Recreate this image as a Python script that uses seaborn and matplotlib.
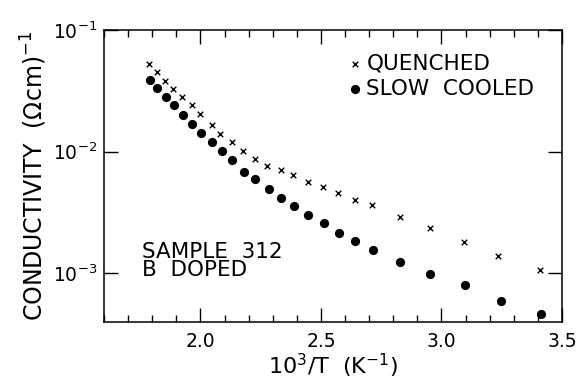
import matplotlib
matplotlib.use("Agg")

import matplotlib.pyplot as plt
import matplotlib.ticker as mticker
import seaborn as sns


# values
quenched_x = [1.785, 1.819, 1.852, 1.888, 1.925, 1.967, 2.000, 2.047, 2.083,
              2.130, 2.177, 2.228, 2.278, 2.334, 2.383, 2.448, 2.507, 2.570,
              2.642, 2.713, 2.827, 2.953, 3.094, 3.235, 3.410]
quenched_y = [0.0525, 0.0448, 0.0378, 0.0330, 0.0282, 0.0241, 0.0203, 0.0167,
              0.0140, 0.0121, 0.01006, 0.00865, 0.00767, 0.00706, 0.00642,
              0.00566, 0.00515, 0.00456, 0.00402, 0.00361, 0.00290, 0.00235,
              0.00179, 0.00139, 0.00106]

slow_x = [1.789, 1.820, 1.856, 1.892, 1.928, 1.964, 2.004, 2.050, 2.088,
          2.131, 2.180, 2.228, 2.283, 2.334, 2.390, 2.448, 2.511, 2.573,
          2.641, 2.715, 2.829, 2.954, 3.097, 3.246, 3.413]
slow_y = [0.0388, 0.0333, 0.0282, 0.0241, 0.0199, 0.0169, 0.0142, 0.0119,
          0.0101, 0.00854, 0.00685, 0.00592, 0.00492, 0.00415, 0.00357,
          0.00301, 0.00258, 0.00216, 0.00184, 0.00154, 0.00123, 0.000993,
          0.000796, 0.000596, 0.000465]

x_ticks = [2.0, 2.5, 3.0, 3.5]
x_tick_labels = ["2.0", "2.5", "3.0", "3.5"]
y_ticks = [1e-3, 1e-2, 1e-1]
y_tick_labels = ["$10^{-3}$", "$10^{-2}$", "$10^{-1}$"]

sns.set_theme(style="ticks")
plt.rcParams["font.family"] = ["DejaVu Sans"]
plt.rcParams["mathtext.default"] = "regular"
for key in ["text.color", "axes.labelcolor", "xtick.color", "ytick.color"]:
    plt.rcParams[key] = "black"

fig = plt.figure(figsize=(5.82, 3.79), dpi=100)
ax = fig.add_axes([0.1787, 0.1504, 0.7869, 0.7704])

sns.scatterplot(x=quenched_x, y=quenched_y, marker="x", s=16, color="black",
                linewidth=1.0, label="QUENCHED", ax=ax)
sns.scatterplot(x=slow_x, y=slow_y, marker="o", s=44, color="black",
                edgecolor="black", linewidth=0, label="SLOW  COOLED", ax=ax)

ax.set_yscale("log")
ax.set_xlim(1.6, 3.5)
ax.set_ylim(3.97e-4, 0.1)

ax.set_xticks(x_ticks)
ax.set_xticklabels(x_tick_labels)
ax.xaxis.set_minor_locator(mticker.MultipleLocator(0.1))
ax.set_yticks(y_ticks)
ax.set_yticklabels(y_tick_labels)
ax.yaxis.set_minor_locator(mticker.NullLocator())

ax.tick_params(which="both", direction="in", top=True, right=True,
               color="black", width=1.0)
ax.tick_params(which="major", length=10, labelsize=13.5)
ax.tick_params(which="minor", length=5)
ax.tick_params(axis="x", pad=7)
ax.tick_params(axis="y", pad=5)
for sp in ax.spines.values():
    sp.set_linewidth(1.1)
    sp.set_color("black")

ax.set_xlabel("$10^3$/T  (K$^{-1}$)", fontsize=16, labelpad=1)
ax.set_ylabel("CONDUCTIVITY  ($\\Omega$cm)$^{-1}$", fontsize=17, labelpad=3)

ax.text(0.083, 0.275, "SAMPLE  312\nB  DOPED", transform=ax.transAxes,
        fontsize=15.5, va="top", ha="left", linespacing=0.9)

ax.legend(loc="upper left", bbox_to_anchor=(0.505, 0.95), frameon=False,
          fontsize=15.5, handletextpad=0.05, borderaxespad=0,
          labelspacing=0.25, handlelength=1.0)

fig.savefig("out.png", dpi=100)
